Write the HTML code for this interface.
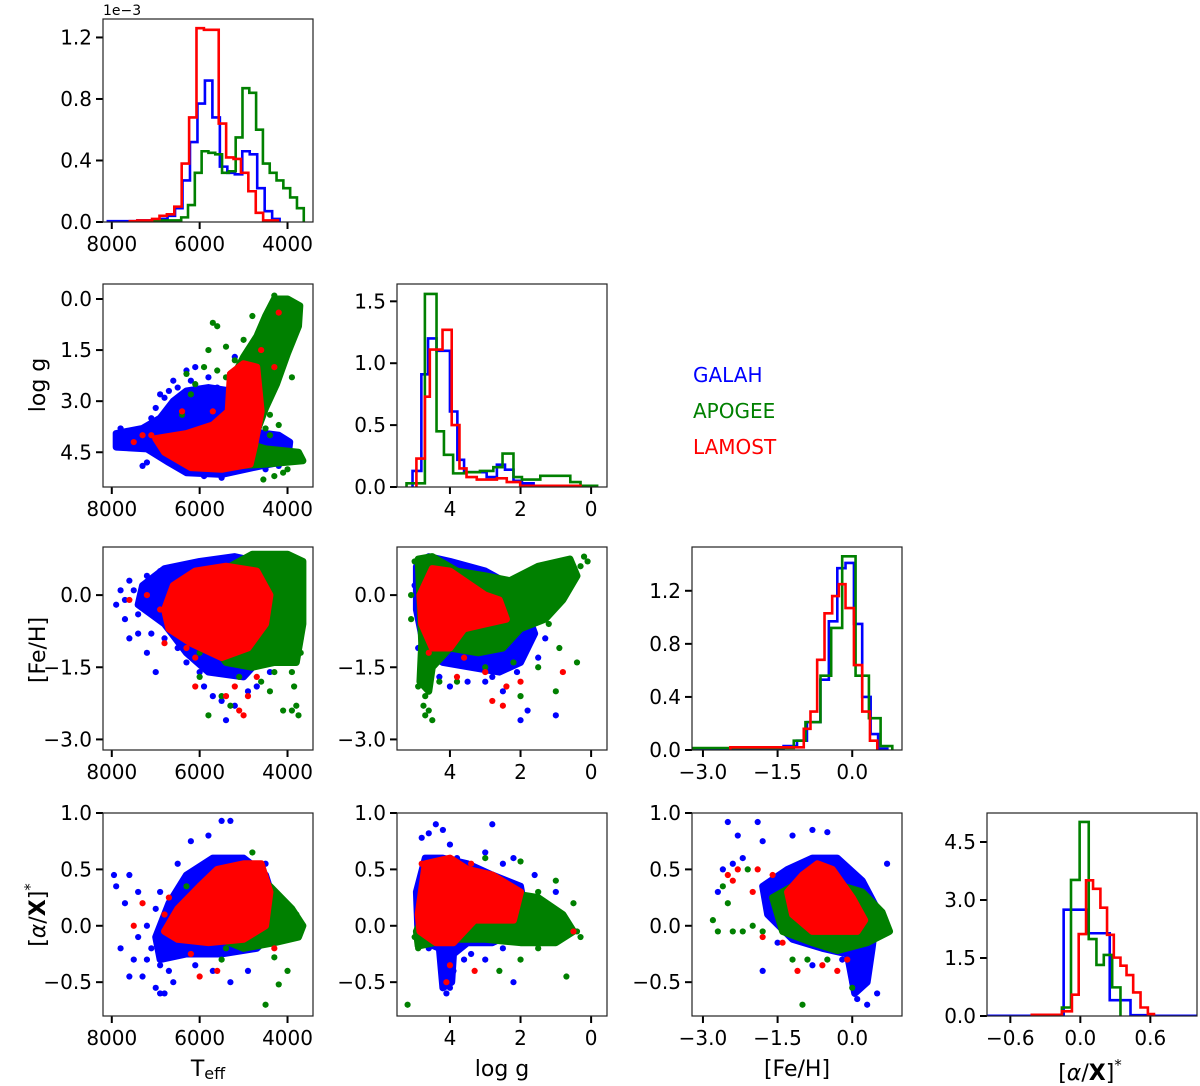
<!DOCTYPE html>
<html><head><meta charset="utf-8">
<style>
html,body{margin:0;padding:0;background:#fff;}
svg{display:block;font-family:"DejaVu Sans","Liberation Sans",sans-serif;}
</style></head>
<body>
<svg id="fig" width="1200" height="1086" viewBox="0 0 1200 1086" xmlns="http://www.w3.org/2000/svg"></svg>
<script>
// ---------- data ----------
const surveys = ["GALAH","APOGEE","LAMOST"];
const colors = ["#0000ff","#008000","#ff0000"];

// Teff histogram (density x1e-3)
const teffEdgesGalah = [4180,4350,4520,4690,4860,5030,5200,5370,5540,5710,5880,6050,6220,6390,6560,6730,6900,7070,7240,7410,7580,7750,7920,8090];
const teffHistGalah = [0.02,0.07,0.22,0.44,0.46,0.31,0.32,0.36,0.68,0.92,0.77,0.52,0.27,0.09,0.04,0.02,0.01,0.01,0.01,0.005,0.005,0.005,0.005];
const teffEdgesApogee = [3630,3785,3940,4095,4250,4405,4560,4715,4870,5025,5180,5335,5490,5645,5800,5955,6110,6265,6420,6575,6730,6885,7040];
const teffHistApogee = [0.09,0.16,0.22,0.27,0.32,0.38,0.60,0.84,0.87,0.55,0.33,0.32,0.44,0.45,0.46,0.32,0.11,0.03,0.01,0.01,0.01,0.005];
const teffEdgesLamost = [4218,4386,4555,4723,4892,5060,5229,5397,5566,5734,5903,6072,6240,6409,6577,6746,6914,7083,7251,7420,7589];
const teffHistLamost = [0.01,0.01,0.06,0.20,0.32,0.41,0.42,0.64,1.25,1.25,1.26,0.68,0.38,0.10,0.05,0.04,0.02,0.01,0.01,0.005];

// log g histogram
const loggEdgesGalah = [0.30,1.63,1.96,2.20,2.44,2.67,2.96,3.60,3.79,4.00,4.38,4.62,4.81,5.06];
const loggHistGalah = [0.01,0.03,0.05,0.14,0.18,0.08,0.12,0.22,0.61,1.10,1.20,0.91,0.13];
const loggEdgesApogee = [-0.17,0.30,0.59,1.44,1.96,2.20,2.51,2.77,3.15,3.57,3.91,4.17,4.38,4.71,5.23];
const loggHistApogee = [0.01,0.04,0.09,0.06,0.08,0.27,0.16,0.13,0.12,0.11,0.26,0.45,1.56,0.03];
const loggEdgesLamost = [0.30,2.01,2.39,2.67,3.24,3.53,3.73,3.95,4.21,4.57,4.71,4.95];
const loggHistLamost = [0.01,0.04,0.07,0.06,0.08,0.15,0.50,1.27,1.11,0.73,0.23];

// [Fe/H] histogram
const fehEdgesGalah = [-3.19,-1.38,-1.11,-0.91,-0.64,-0.47,-0.30,-0.135,0.034,0.20,0.37,0.52,0.705];
const fehHistGalah = [0.01,0.03,0.07,0.21,0.53,0.97,1.37,1.41,0.95,0.40,0.12,0.01];
const fehEdgesApogee = [-3.19,-1.175,-0.94,-0.638,-0.423,-0.202,0.067,0.335,0.570,0.805];
const fehHistApogee = [0.015,0.07,0.21,0.56,0.92,1.46,0.56,0.24,0.03];
const fehEdgesLamost = [-2.45,-0.974,-0.839,-0.705,-0.557,-0.403,-0.269,-0.135,0.034,0.201,0.356,0.503];
const fehHistLamost = [0.02,0.16,0.29,0.68,1.03,1.16,1.25,1.07,0.64,0.29,0.07];

// [alpha/X]* histogram
const alphaEdgesGalah = [-0.8,-0.143,0.052,0.252,0.430,0.631,1.0];
const alphaHistGalah = [0.004,2.75,2.14,0.41,0.02,0.004];
const alphaEdgesApogee = [-0.158,-0.080,-0.006,0.072,0.138,0.201,0.273,0.344];
const alphaHistApogee = [0.22,3.52,5.02,1.99,1.32,1.58,0.74];
const alphaEdgesLamost = [-0.416,-0.158,-0.072,-0.014,0.049,0.109,0.172,0.229,0.287,0.344,0.396,0.453,0.516,0.579,0.631];
const alphaHistLamost = [0.03,0.12,0.55,2.12,3.51,3.29,2.80,2.10,1.51,1.30,1.06,0.61,0.22,0.05];

// scatter clouds: dense core outlines (data units) + individual stars
const teffLoggCoreGalah = [[7900,3.95],[7300,3.8],[6900,3.5],[6600,3.0],[6300,2.7],[5800,2.6],[5300,2.7],[5000,3.2],[4800,3.9],[4200,4.0],[3950,4.2],[4000,4.75],[4600,4.9],[5500,5.15],[6300,5.1],[6700,4.8],[7200,4.4],[7900,4.35]];
const teffLoggCoreApogee = [[4000,0.0],[3720,0.2],[3750,0.8],[4000,1.6],[4250,2.5],[4500,3.2],[4700,3.9],[5100,3.9],[5300,3.0],[5200,2.2],[5000,1.7],[4700,1.1],[4500,0.5],[4300,0.0]];
const teffLoggCoreApogee2 = [[5700,4.4],[5000,4.2],[4500,4.4],[3750,4.5],[3650,4.75],[4500,4.85],[5200,4.9],[5800,4.85]];
const teffLoggCoreLamost = [[7000,4.1],[6300,3.95],[5700,3.7],[5350,3.3],[5300,2.2],[5000,1.9],[4700,2.0],[4600,3.3],[4750,4.3],[4850,4.85],[5500,5.0],[6200,4.95],[6800,4.5]];
const teffLoggPtsGalah = [[7900,4.1],[7800,3.8],[7600,4.2],[7300,4.1],[7100,3.5],[6900,2.8],[6800,2.9],[6600,2.4],[6500,2.6],[6400,3.3],[6300,2.1],[5800,2.3],[5600,2.6],[5200,1.7],[4400,4.3],[4500,5.0],[6000,5.0],[7500,4.3],[7200,4.8],[7000,3.2],[6700,2.7],[6200,2.4],[5900,5.2],[5500,5.25],[7300,4.9],[6100,2.0],[4200,4.9]];
const teffLoggPtsApogee = [[6300,2.2],[6100,2.5],[5700,0.7],[5600,0.8],[5800,1.5],[5400,1.4],[5200,1.8],[5000,1.2],[4800,0.5],[4300,-0.1],[4600,2.5],[3900,2.3],[4700,3.6],[4500,3.8],[4400,4.0],[4300,5.2],[4100,5.1],[4000,5.0],[5800,4.5],[5500,4.7],[6200,2.8],[5900,2.0],[5600,2.1],[5400,2.3],[6400,3.4],[4400,3.4],[4200,3.7],[4550,5.3]];
const teffLoggPtsLamost = [[7500,4.2],[7300,4.0],[7100,4.0],[6400,3.3],[4200,0.4],[4600,1.5],[4300,2.0],[5700,3.3]];

const teffFehCoreGalah = [[7300,0.2],[6800,0.55],[6000,0.7],[5200,0.8],[4700,0.7],[4500,-0.5],[4600,-1.3],[5000,-1.7],[5800,-1.6],[6300,-1.2],[6800,-0.6],[7400,-0.2]];
const teffFehCoreApogee = [[5300,0.6],[4800,0.85],[4000,0.85],[3650,0.7],[3650,-0.6],[3800,-1.4],[4300,-1.4],[4800,-1.5],[5400,-1.4],[5800,-0.9],[5700,0.3]];
const teffFehCoreLamost = [[6800,-0.3],[6600,0.2],[6100,0.5],[5400,0.6],[4700,0.5],[4400,0.0],[4500,-0.6],[4900,-1.1],[5500,-1.3],[6200,-1.0],[6700,-0.7]];
const teffFehPtsGalah = [[7900,-0.2],[7800,0.1],[7700,-0.5],[7600,0.3],[7400,-0.8],[7200,-1.2],[7000,-1.6],[6800,-0.9],[6500,-1.1],[6300,-1.4],[6000,-1.6],[5700,-2.1],[5500,-2.2],[4900,-2.0],[4800,-1.5],[4600,-1.2],[5400,-2.6],[7500,0.1],[7200,0.4],[7700,-0.1],[7400,-0.4],[7100,-0.8],[7600,-0.9],[6900,0.5],[5900,-1.9],[5200,-2.3],[4700,-1.9],[4400,-1.6]];
const teffFehPtsApogee = [[6000,-1.2],[6000,-1.7],[5800,-2.5],[5500,-2.1],[5300,-2.3],[4600,-1.8],[4400,-2.0],[3900,-1.6],[3850,-1.9],[3800,-2.3],[3750,-2.5],[3900,-2.4],[4100,-2.4],[3700,-0.9],[3700,-1.2],[4300,-1.6],[5100,-1.7],[6300,-0.3]];
const teffFehPtsLamost = [[7600,-0.1],[7200,0.0],[6900,-0.3],[6800,-1.0],[6300,-1.1],[6100,-1.9],[5400,-2.1],[5200,-1.9],[4900,-2.1],[5100,-2.4],[5000,-2.5],[4700,-1.7],[6100,-1.3]];

const loggFehCoreGalah = [[4.95,0.6],[4.6,0.8],[4.0,0.7],[3.0,0.5],[2.5,0.3],[2.0,0.0],[1.6,-0.8],[2.0,-1.4],[2.6,-1.6],[3.4,-1.5],[4.2,-1.4],[4.7,-1.2],[4.95,-0.3]];
const loggFehCoreApogee = [[4.9,0.75],[4.5,0.8],[3.8,0.5],[3.0,0.4],[2.3,0.3],[1.5,0.6],[0.6,0.75],[0.4,0.4],[0.8,-0.1],[1.3,-0.5],[2.0,-0.7],[2.5,-1.1],[3.2,-1.2],[4.0,-1.1],[4.5,-1.5],[4.6,-2.0],[4.85,-1.8],[4.8,-1.0]];
const loggFehCoreLamost = [[4.85,0.0],[4.5,0.55],[4.0,0.5],[3.4,0.2],[3.0,0.0],[2.6,-0.1],[2.4,-0.5],[3.0,-0.6],[3.6,-0.7],[4.0,-1.1],[4.5,-1.1],[4.8,-0.6]];
const loggFehPtsGalah = [[5.0,0.2],[4.9,-1.1],[4.6,-1.6],[4.3,-1.7],[4.0,-1.9],[3.8,-1.4],[3.0,-1.8],[2.5,-2.0],[2.3,-1.2],[2.1,-1.6],[1.8,-2.4],[1.5,-1.3],[1.0,-2.5],[2.0,-2.6],[3.5,-1.8],[2.8,-1.7],[1.3,-0.9]];
const loggFehPtsApogee = [[5.0,0.7],[5.1,0.0],[5.1,-0.5],[4.9,-1.9],[4.7,-2.1],[4.7,-2.5],[4.5,-2.6],[4.3,-1.8],[3.8,-1.8],[2.0,-2.1],[2.2,-1.4],[1.0,-2.0],[0.3,0.6],[0.2,0.8],[0.1,0.7],[1.2,-0.6],[0.9,-1.1],[1.5,-1.5],[0.4,-1.4],[4.75,-2.3],[4.6,-2.4],[3.0,-1.5]];
const loggFehPtsLamost = [[4.6,-1.2],[3.8,-1.7],[3.6,-1.3],[2.4,-1.9],[2.5,-2.3],[2.8,-2.2],[3.0,-1.6],[2.0,-1.8],[0.8,-1.6],[3.5,-0.6]];

const teffAlphaCoreGalah = [[7000,-0.1],[6700,0.2],[6300,0.45],[5700,0.6],[5000,0.6],[4500,0.45],[4300,0.2],[4300,-0.05],[4700,-0.2],[5500,-0.25],[6300,-0.25],[6900,-0.3]];
const teffAlphaCoreApogee = [[5300,0.2],[4800,0.35],[4400,0.35],[3900,0.15],[3650,0.0],[3750,-0.1],[4300,-0.15],[5000,-0.2],[5500,-0.12]];
const teffAlphaCoreLamost = [[6800,-0.05],[6500,0.15],[6000,0.35],[5600,0.5],[5000,0.55],[4600,0.55],[4400,0.3],[4500,0.0],[5000,-0.12],[5800,-0.15],[6500,-0.12]];
const teffAlphaPtsGalah = [[7950,0.45],[7900,0.35],[7700,0.2],[7600,0.45],[7400,0.3],[7200,0.0],[7800,-0.2],[7600,-0.45],[7500,-0.3],[7300,-0.45],[7000,-0.55],[6800,-0.6],[6900,-0.35],[6600,-0.5],[6200,0.75],[5500,0.93],[5300,0.93],[5800,0.8],[5000,0.6],[4500,0.55],[5700,-0.4],[5300,-0.5],[4900,-0.4],[6600,0.2],[7100,-0.2],[6900,0.3],[7400,-0.1],[7200,-0.3],[7000,0.15],[6700,-0.4],[6900,-0.6],[6500,0.55],[6100,-0.35]];
const teffAlphaPtsApogee = [[6300,0.35],[5800,0.0],[4800,0.65],[4300,-0.28],[4000,-0.4],[3800,0.1],[5400,-0.2],[5500,-0.3],[4200,-0.52],[4500,-0.7]];
const teffAlphaPtsLamost = [[7300,0.2],[7500,0.0],[6700,0.25],[6800,0.1],[6200,-0.25],[6000,-0.45],[5600,-0.4],[4700,0.45],[4300,-0.2]];

const loggAlphaCoreGalah = [[4.95,0.3],[4.7,0.6],[4.2,0.6],[3.5,0.55],[2.8,0.45],[2.0,0.35],[1.8,0.0],[2.8,-0.15],[3.5,-0.15],[3.9,-0.25],[3.95,-0.5],[4.2,-0.55],[4.3,-0.2],[4.9,-0.12]];
const loggAlphaCoreApogee = [[4.95,-0.05],[4.6,0.2],[3.5,0.2],[2.5,0.3],[1.5,0.25],[0.8,0.1],[0.5,-0.05],[1.0,-0.15],[2.0,-0.15],[3.0,-0.12],[4.0,-0.12],[4.9,-0.18]];
const loggAlphaCoreLamost = [[4.9,0.1],[4.7,0.55],[4.0,0.6],[3.5,0.5],[2.8,0.45],[2.0,0.3],[2.2,0.05],[3.3,0.05],[3.6,-0.05],[3.9,-0.15],[4.4,-0.15],[4.85,-0.05]];
const loggAlphaPtsGalah = [[4.8,0.78],[4.6,0.82],[4.4,0.9],[4.2,0.85],[4.0,0.72],[3.8,0.6],[2.8,0.9],[3.0,0.65],[2.5,0.55],[2.2,0.6],[1.6,0.45],[1.0,0.3],[4.1,-0.6],[4.2,-0.5],[4.0,-0.55],[3.9,-0.4],[3.6,-0.3],[3.0,-0.3],[2.5,-0.2],[2.2,-0.5],[4.6,-0.2],[3.4,-0.25]];
const loggAlphaPtsApogee = [[5.2,-0.7],[5.0,-0.1],[4.9,-0.2],[3.0,0.6],[2.0,0.57],[1.5,0.3],[1.0,0.4],[0.5,0.2],[0.3,-0.1],[0.4,-0.05],[1.5,-0.2],[2.0,-0.3],[0.7,-0.45],[2.6,-0.4]];
const loggAlphaPtsLamost = [[4.8,0.55],[3.4,0.55],[4.0,-0.35],[3.3,-0.4],[0.5,-0.05],[4.1,-0.5]];

const fehAlphaCoreGalah = [[-1.8,0.35],[-1.3,0.5],[-0.8,0.6],[-0.3,0.6],[0.2,0.4],[0.5,0.15],[0.4,-0.2],[0.3,-0.5],[0.05,-0.6],[-0.1,-0.25],[-0.6,-0.2],[-1.2,-0.12],[-1.7,0.1]];
const fehAlphaCoreApogee = [[-1.6,0.25],[-1.0,0.4],[-0.4,0.38],[0.2,0.3],[0.6,0.12],[0.75,-0.05],[0.3,-0.15],[-0.3,-0.22],[-0.8,-0.15],[-1.4,-0.05]];
const fehAlphaCoreLamost = [[-1.3,0.3],[-1.0,0.45],[-0.7,0.55],[-0.4,0.5],[0.0,0.25],[0.25,0.05],[0.1,-0.05],[-0.3,-0.05],[-0.8,-0.05],[-1.2,0.1]];
const fehAlphaPtsGalah = [[-2.5,0.92],[-1.9,0.92],[-2.3,0.8],[-1.8,0.75],[-1.2,0.8],[-0.8,0.85],[-0.5,0.83],[-2.6,0.5],[-2.4,0.55],[-2.2,0.6],[-2.7,0.3],[0.7,0.55],[-1.5,-0.15],[-1.8,-0.4],[-0.8,-0.35],[0.3,-0.7],[0.1,-0.65],[0.5,-0.6],[-0.2,-0.3],[0.0,-0.5]];
const fehAlphaPtsApogee = [[-2.8,0.05],[-2.7,-0.05],[-2.4,-0.05],[-2.2,-0.05],[-2.0,0.0],[-2.5,0.2],[-2.6,0.35],[-1.8,-0.05],[-1.2,-0.3],[-0.9,-0.3],[-1.0,-0.7],[-0.5,-0.3],[0.0,-0.55],[-2.1,0.5]];
const fehAlphaPtsLamost = [[-2.5,0.45],[-2.4,0.4],[-2.3,0.5],[-1.9,0.5],[-1.8,-0.1],[-1.4,-0.15],[-1.1,-0.4],[-0.6,-0.35],[-0.3,-0.4],[-1.6,0.45],[-2.0,0.3],[-0.1,-0.3]];

// axis ticks
const teffTicks = [8000,6000,4000];
const teffTickLabels = ["8000","6000","4000"];
const loggTicks = [0.0,1.5,3.0,4.5];
const loggTickLabels = ["0.0","1.5","3.0","4.5"];
const loggXTicks = [4,2,0];
const loggXTickLabels = ["4","2","0"];
const fehTicks = [0.0,-1.5,-3.0];
const fehTickLabels = ["0.0","\u22121.5","\u22123.0"];
const alphaTicks = [1.0,0.5,0.0,-0.5];
const alphaTickLabels = ["1.0","0.5","0.0","\u22120.5"];
const alphaXTicks = [-0.6,0.0,0.6];
const alphaXTickLabels = ["\u22120.6","0.0","0.6"];
const teffHistTicks = [0.0,0.4,0.8,1.2];
const teffHistTickLabels = ["0.0","0.4","0.8","1.2"];
const loggHistTicks = [0.0,0.5,1.0,1.5];
const loggHistTickLabels = ["0.0","0.5","1.0","1.5"];
const fehHistTicks = [0.0,0.4,0.8,1.2];
const fehHistTickLabels = ["0.0","0.4","0.8","1.2"];
const alphaHistTicks = [0.0,1.5,3.0,4.5];
const alphaHistTickLabels = ["0.0","1.5","3.0","4.5"];

// ---------- layout ----------
const NS = "http://www.w3.org/2000/svg";
const svg = document.getElementById("fig");
const colX = [103,397,692,987], rowY = [19,284,547,813], W = 210, H = 203;
const LIM = {
  teff:[8200,3420], loggX:[5.5,-0.45], loggY:[5.52,-0.44], feh:[-3.22,1.0], alpha:[-0.8,1.0],
  teffH:[0,1.32], loggH:[0,1.64], fehH:[0,1.53], alphaH:[0,5.25]
};
function mk(tag, attrs, parent){ const e=document.createElementNS(NS,tag); for(const k in attrs) e.setAttribute(k,attrs[k]); (parent||svg).appendChild(e); return e; }
function xScale(c,lim){ return v => colX[c] + (v-lim[0])/(lim[1]-lim[0])*W; }
function yScale(r,lim){ return v => rowY[r] + H - (v-lim[0])/(lim[1]-lim[0])*H; }

function panel(r,c,xl,yl,xt,xtl,yt,ytl,name){
  const g = mk("g",{});
  
  
  const clipId = "clip"+r+c;
  const cp = mk("clipPath",{id:clipId},g); mk("rect",{x:colX[c],y:rowY[r],width:W,height:H},cp);
  const plot = mk("g",{"clip-path":"url(#"+clipId+")"},g);
  const sx = xScale(c,xl), sy = yScale(r,yl);
  const ax = mk("g",{},g);
  xt.forEach((v,i)=>{ const x=sx(v);
    mk("line",{x1:x,x2:x,y1:rowY[r]+H,y2:rowY[r]+H+7,stroke:"#000","stroke-width":2},ax);
    const t=mk("text",{x:x,y:rowY[r]+H+29,"text-anchor":"middle","font-size":20,fill:"#000"},ax); t.textContent=xtl[i];
    
    
  });
  yt.forEach((v,i)=>{ const y=sy(v);
    mk("line",{x1:colX[c]-7,x2:colX[c],y1:y,y2:y,stroke:"#000","stroke-width":2},ax);
    const t=mk("text",{x:colX[c]-11,y:y+7,"text-anchor":"end","font-size":20,fill:"#000"},ax); t.textContent=ytl[i];
    
    
  });
  return {g,plot,ax,sx,sy,r,c};
}
function frame(p){ mk("rect",{x:colX[p.c],y:rowY[p.r],width:W,height:H,fill:"none",stroke:"#222","stroke-width":1.2},p.g); }

function hist(p, edges, vals, color, name){
  let d = "M"+p.sx(edges[0])+","+p.sy(0);
  for(let i=0;i<vals.length;i++){ d += " L"+p.sx(edges[i])+","+p.sy(vals[i])+" L"+p.sx(edges[i+1])+","+p.sy(vals[i]); }
  d += " L"+p.sx(edges[edges.length-1])+","+p.sy(0);
  const e = mk("path",{d:d,fill:"none",stroke:color,"stroke-width":2.6,"stroke-linejoin":"miter"},p.plot);
  
  
}
function cloud(p, cores, pts, color, name){
  const g = mk("g",{},p.plot);
  
  
  cores.forEach(core=>{
    const d = core.map((q,i)=>(i?"L":"M")+p.sx(q[0])+","+p.sy(q[1])).join(" ")+"Z";
    mk("path",{d:d,fill:color,stroke:color,"stroke-width":7,"stroke-linejoin":"round"},g);
  });
  pts.forEach(q=>{
    const e = mk("circle",{cx:p.sx(q[0]),cy:p.sy(q[1]),r:3.1,fill:color},g);
    
    
  });
}

// Row 0: Teff histogram
let p = panel(0,0,LIM.teff,LIM.teffH,teffTicks,teffTickLabels,teffHistTicks,teffHistTickLabels,"teff-histogram");
hist(p,teffEdgesGalah,teffHistGalah,colors[0],"teff-hist-galah");
hist(p,teffEdgesApogee,teffHistApogee,colors[1],"teff-hist-apogee");
hist(p,teffEdgesLamost,teffHistLamost,colors[2],"teff-hist-lamost");
frame(p);
let t = mk("text",{x:103,y:15,"font-size":14,fill:"#000"}); t.textContent="1e\u22123";



// Row 1
p = panel(1,0,LIM.teff,LIM.loggY,teffTicks,teffTickLabels,loggTicks,loggTickLabels,"teff-logg-scatter");
cloud(p,[teffLoggCoreGalah],teffLoggPtsGalah,colors[0],"teff-logg-galah");
cloud(p,[teffLoggCoreApogee,teffLoggCoreApogee2],teffLoggPtsApogee,colors[1],"teff-logg-apogee");
cloud(p,[teffLoggCoreLamost],teffLoggPtsLamost,colors[2],"teff-logg-lamost");
frame(p);
p = panel(1,1,LIM.loggX,LIM.loggH,loggXTicks,loggXTickLabels,loggHistTicks,loggHistTickLabels,"logg-histogram");
hist(p,loggEdgesGalah,loggHistGalah,colors[0],"logg-hist-galah");
hist(p,loggEdgesApogee,loggHistApogee,colors[1],"logg-hist-apogee");
hist(p,loggEdgesLamost,loggHistLamost,colors[2],"logg-hist-lamost");
frame(p);

// Row 2
p = panel(2,0,LIM.teff,LIM.feh,teffTicks,teffTickLabels,fehTicks,fehTickLabels,"teff-feh-scatter");
cloud(p,[teffFehCoreGalah],teffFehPtsGalah,colors[0],"teff-feh-galah");
cloud(p,[teffFehCoreApogee],teffFehPtsApogee,colors[1],"teff-feh-apogee");
cloud(p,[teffFehCoreLamost],teffFehPtsLamost,colors[2],"teff-feh-lamost");
frame(p);
p = panel(2,1,LIM.loggX,LIM.feh,loggXTicks,loggXTickLabels,fehTicks,fehTickLabels,"logg-feh-scatter");
cloud(p,[loggFehCoreGalah],loggFehPtsGalah,colors[0],"logg-feh-galah");
cloud(p,[loggFehCoreApogee],loggFehPtsApogee,colors[1],"logg-feh-apogee");
cloud(p,[loggFehCoreLamost],loggFehPtsLamost,colors[2],"logg-feh-lamost");
frame(p);
p = panel(2,2,LIM.feh,LIM.fehH,fehTicks.slice().reverse(),fehTickLabels.slice().reverse(),fehHistTicks,fehHistTickLabels,"feh-histogram");
hist(p,fehEdgesGalah,fehHistGalah,colors[0],"feh-hist-galah");
hist(p,fehEdgesApogee,fehHistApogee,colors[1],"feh-hist-apogee");
hist(p,fehEdgesLamost,fehHistLamost,colors[2],"feh-hist-lamost");
frame(p);

// Row 3
p = panel(3,0,LIM.teff,LIM.alpha,teffTicks,teffTickLabels,alphaTicks,alphaTickLabels,"teff-alpha-scatter");
cloud(p,[teffAlphaCoreGalah],teffAlphaPtsGalah,colors[0],"teff-alpha-galah");
cloud(p,[teffAlphaCoreApogee],teffAlphaPtsApogee,colors[1],"teff-alpha-apogee");
cloud(p,[teffAlphaCoreLamost],teffAlphaPtsLamost,colors[2],"teff-alpha-lamost");
frame(p);
p = panel(3,1,LIM.loggX,LIM.alpha,loggXTicks,loggXTickLabels,alphaTicks,alphaTickLabels,"logg-alpha-scatter");
cloud(p,[loggAlphaCoreGalah],loggAlphaPtsGalah,colors[0],"logg-alpha-galah");
cloud(p,[loggAlphaCoreApogee],loggAlphaPtsApogee,colors[1],"logg-alpha-apogee");
cloud(p,[loggAlphaCoreLamost],loggAlphaPtsLamost,colors[2],"logg-alpha-lamost");
frame(p);
p = panel(3,2,LIM.feh,LIM.alpha,fehTicks.slice().reverse(),fehTickLabels.slice().reverse(),alphaTicks,alphaTickLabels,"feh-alpha-scatter");
cloud(p,[fehAlphaCoreGalah],fehAlphaPtsGalah,colors[0],"feh-alpha-galah");
cloud(p,[fehAlphaCoreApogee],fehAlphaPtsApogee,colors[1],"feh-alpha-apogee");
cloud(p,[fehAlphaCoreLamost],fehAlphaPtsLamost,colors[2],"feh-alpha-lamost");
frame(p);
p = panel(3,3,LIM.alpha,LIM.alphaH,alphaXTicks,alphaXTickLabels,alphaHistTicks,alphaHistTickLabels,"alpha-histogram");
hist(p,alphaEdgesGalah,alphaHistGalah,colors[0],"alpha-hist-galah");
hist(p,alphaEdgesApogee,alphaHistApogee,colors[1],"alpha-hist-apogee");
hist(p,alphaEdgesLamost,alphaHistLamost,colors[2],"alpha-hist-lamost");
frame(p);

// legend
const legY = [382,418,454];
surveys.forEach((s,i)=>{
  const e = mk("text",{x:693,y:legY[i],"font-size":20,fill:colors[i]}); e.textContent=s;
  
  
});
</script>
<script>
(function(){
  const svg=document.getElementById("fig");
  svg.insertAdjacentHTML("beforeend",
   '<text x="208" y="1076" text-anchor="middle" font-size="22">T<tspan font-size="16" dy="3">eff</tspan></text>'+
   '<text x="502" y="1076" text-anchor="middle" font-size="22">log g</text>'+
   '<text x="797" y="1076" text-anchor="middle" font-size="22">[Fe/H]</text>'+
   '<text x="1090" y="1080" text-anchor="middle" font-size="22">[<tspan font-style="italic">α</tspan>/<tspan font-weight="bold">X</tspan>]<tspan font-size="15" dy="-10">*</tspan></text>'+
   '<text transform="translate(45,385) rotate(-90)" text-anchor="middle" font-size="22">log g</text>'+
   '<text transform="translate(45,650) rotate(-90)" text-anchor="middle" font-size="22">[Fe/H]</text>'+
   '<text transform="translate(45,915) rotate(-90)" text-anchor="middle" font-size="22">[<tspan font-style="italic">α</tspan>/<tspan font-weight="bold">X</tspan>]<tspan font-size="15" dy="-10">*</tspan></text>');
})();
</script>
</body></html>
